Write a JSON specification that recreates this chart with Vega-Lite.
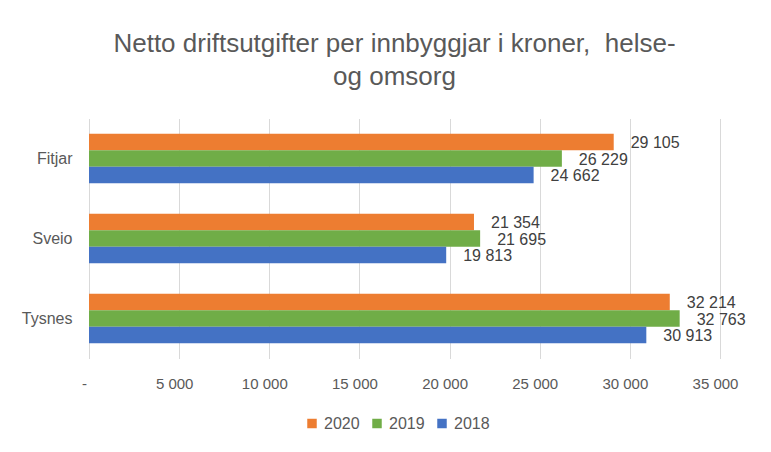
{
  "$schema": "https://vega.github.io/schema/vega-lite/v6.json",
  "autosize": "none",
  "width": 631,
  "height": 240,
  "padding": {"left": 89, "top": 118.5, "right": 51, "bottom": 93.5},
  "background": "white",
  "config": {
    "locale": {"number": {"decimal": ",", "thousands": " ", "grouping": [3], "currency": ["", " kr"]}},
    "view": {"stroke": null},
    "font": "Liberation Sans"
  },
  "title": {
    "text": ["Netto driftsutgifter per innbyggjar i kroner,\u00a0 helse-", "og omsorg"],
    "anchor": "middle",
    "frame": "group",
    "dx": -10,
    "offset": 29,
    "fontSize": 26,
    "fontWeight": "normal",
    "color": "#595959",
    "lineHeight": 33,
    "font": "Liberation Sans"
  },
  "data": {
    "values": [
      {"kommune": "Fitjar", "year": "2020", "value": 29105},
      {"kommune": "Fitjar", "year": "2019", "value": 26229},
      {"kommune": "Fitjar", "year": "2018", "value": 24662},
      {"kommune": "Sveio", "year": "2020", "value": 21354},
      {"kommune": "Sveio", "year": "2019", "value": 21695},
      {"kommune": "Sveio", "year": "2018", "value": 19813},
      {"kommune": "Tysnes", "year": "2020", "value": 32214},
      {"kommune": "Tysnes", "year": "2019", "value": 32763},
      {"kommune": "Tysnes", "year": "2018", "value": 30913}
    ]
  },
  "encoding": {
    "y": {
      "field": "kommune",
      "type": "nominal",
      "sort": ["Fitjar", "Sveio", "Tysnes"],
      "scale": {"paddingInner": 0.38, "paddingOuter": 0.19},
      "axis": {
        "title": null,
        "domain": false,
        "ticks": false,
        "labelPadding": 17,
        "labelFontSize": 16,
        "labelColor": "#595959",
        "labelFont": "Liberation Sans"
      }
    },
    "yOffset": {
      "field": "year",
      "type": "nominal",
      "sort": ["2020", "2019", "2018"],
      "scale": {"paddingInner": 0, "paddingOuter": 0}
    },
    "x": {
      "field": "value",
      "type": "quantitative",
      "scale": {"domain": [0, 35000], "nice": false},
      "axis": {
        "title": null,
        "values": [0, 5000, 10000, 15000, 20000, 25000, 30000, 35000],
        "labelExpr": "datum.value == 0 ? '-\u00a0\u00a0' : format(datum.value, ',')",
        "labelOffset": -5,
        "labelFlush": false,
        "labelOverlap": false,
        "domain": false,
        "ticks": false,
        "grid": true,
        "gridColor": "#d9d9d9",
        "gridWidth": 1,
        "labelPadding": 18,
        "labelFontSize": 15,
        "labelColor": "#595959",
        "labelFont": "Liberation Sans"
      }
    }
  },
  "layer": [
    {
      "mark": {"type": "bar"},
      "encoding": {
        "color": {
          "field": "year",
          "type": "nominal",
          "scale": {"domain": ["2020", "2019", "2018"], "range": ["#ED7D31", "#70AD47", "#4472C4"]},
          "legend": {
            "title": null,
            "orient": "none",
            "direction": "horizontal",
            "legendX": 215,
            "legendY": 297,
            "symbolType": "square",
            "symbolSize": 90,
            "symbolStrokeWidth": 0,
            "symbolOpacity": 1,
            "labelFontSize": 16,
            "labelColor": "#595959",
            "labelFont": "Liberation Sans",
            "columnPadding": 9,
            "labelOffset": 4
          }
        }
      }
    },
    {
      "mark": {"type": "text", "align": "left", "baseline": "middle", "dx": 17, "dy": 1, "fontSize": 16, "color": "#404040", "font": "Liberation Sans"},
      "encoding": {
        "text": {"field": "value", "type": "quantitative", "format": ","}
      }
    }
  ]
}
